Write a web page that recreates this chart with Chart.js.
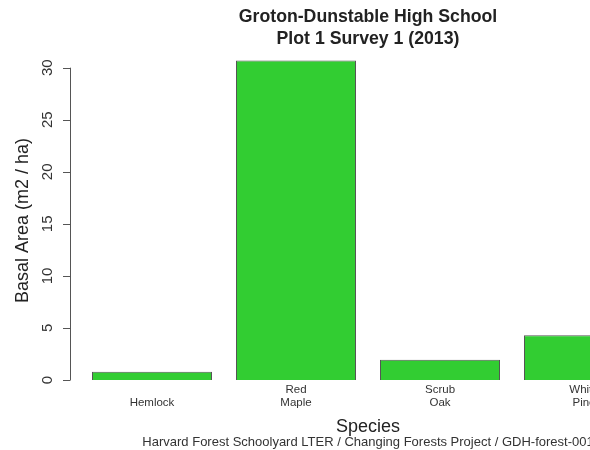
<!DOCTYPE html>
<html>
<head>
<meta charset="utf-8">
<script src="https://cdn.jsdelivr.net/npm/chart.js@4/dist/chart.umd.min.js"></script>
<style>
  html, body { margin: 0; padding: 0; background: #fff; overflow: hidden; }
  #wrap { width: 736px; height: 450px; }
</style>
</head>
<body>
<div id="wrap"><canvas id="chart" width="736" height="450"></canvas></div>
<script>
const species = ['Hemlock', 'Red Maple', 'Scrub Oak', 'White Pine'];
const basalArea = [0.8, 30.7, 1.95, 4.3];
const yTicks = [0, 5, 10, 15, 20, 25, 30];

const titleLines = ['Groton-Dunstable High School', 'Plot 1 Survey 1 (2013)'];
const yTitle = 'Basal Area (m2 / ha)';
const xTitle = 'Species';
const caption = 'Harvard Forest Schoolyard LTER / Changing Forests Project / GDH-forest-001';

const fontFamily = '"Liberation Sans", Arial, Helvetica, sans-serif';

// R style y axis: line only from 0 to 30, rotated tick labels
const rAxis = {
    id: 'rAxis',
    afterDraw(chart) {
        const ctx = chart.ctx;
        const y = chart.scales.y;
        const area = chart.chartArea;
        const axisX = area.left - 10;

        ctx.save();
        ctx.strokeStyle = '#555';
        ctx.lineWidth = 1;
        ctx.beginPath();
        ctx.moveTo(axisX + 0.5, y.getPixelForValue(yTicks[0]));
        ctx.lineTo(axisX + 0.5, y.getPixelForValue(yTicks[yTicks.length - 1]));
        for (const t of yTicks) {
            const py = Math.round(y.getPixelForValue(t)) + 0.5;
            ctx.moveTo(axisX + 0.5, py);
            ctx.lineTo(axisX - 7, py);
        }
        ctx.stroke();

        ctx.fillStyle = '#333';
        ctx.font = '15px ' + fontFamily;
        ctx.textAlign = 'center';
        ctx.textBaseline = 'middle';
        for (const t of yTicks) {
            ctx.save();
            ctx.translate(axisX - 22, y.getPixelForValue(t));
            ctx.rotate(-Math.PI / 2);
            ctx.fillText(String(t), 0, 0);
            ctx.restore();
        }

        ctx.fillStyle = '#222';
        ctx.font = '18px ' + fontFamily;
        ctx.save();
        ctx.translate(23, (area.top + area.bottom) / 2 + 4);
        ctx.rotate(-Math.PI / 2);
        ctx.fillText(yTitle, 0, 0);
        ctx.restore();
        ctx.restore();
    }
};

new Chart(document.getElementById('chart'), {
    type: 'bar',
    data: {
        labels: species,
        datasets: [{
            data: basalArea,
            backgroundColor: '#32CD32',
            borderColor: '#555',
            borderWidth: 1,
            barPercentage: 120 / 144,
            categoryPercentage: 1
        }]
    },
    options: {
        responsive: false,
        animation: false,
        devicePixelRatio: 1,
        layout: { padding: { left: 80, right: 80, top: 0, bottom: 0 } },
        plugins: {
            legend: { display: false },
            tooltip: { enabled: false },
            title: {
                display: true,
                text: titleLines,
                color: '#222',
                font: { family: fontFamily, size: 17.7, weight: 'bold', lineHeight: '22px' },
                padding: { top: 6, bottom: 0 }
            },
            subtitle: {
                display: true,
                position: 'bottom',
                text: caption,
                color: '#333',
                font: { family: fontFamily, size: 13, lineHeight: 1 },
                padding: { top: 0, bottom: 1 }
            }
        },
        scales: {
            x: {
                offset: true,
                grid: { display: false, drawTicks: false },
                border: { display: false },
                ticks: {
                    color: '#333',
                    font: { family: fontFamily, size: 11.5, lineHeight: '13px' },
                    padding: 0,
                    autoSkip: false,
                    maxRotation: 0,
                    callback: (v, i) => {
                        const parts = species[i].split(' ');
                        return parts.length === 1 ? ['', parts[0]] : parts;
                    }
                },
                title: {
                    display: true,
                    text: xTitle,
                    color: '#222',
                    font: { family: fontFamily, size: 18, lineHeight: 1 },
                    padding: { top: 0, bottom: 0 }
                },
                afterFit: (scale) => { scale.height = 53; }
            },
            y: {
                display: false,
                min: -0.29,
                max: 31.7
            }
        }
    },
    plugins: [rAxis]
});
</script>
</body>
</html>
